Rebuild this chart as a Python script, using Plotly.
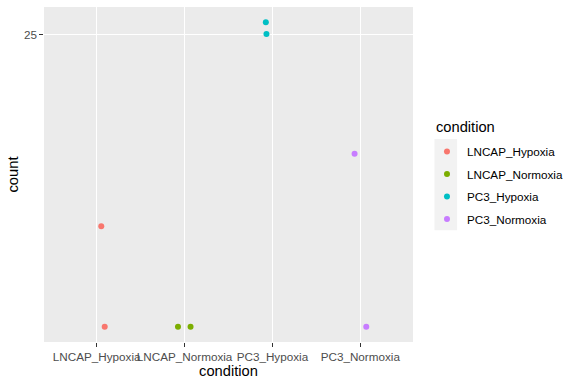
import numpy as np
import plotly.graph_objects as go

categories = ["LNCAP_Hypoxia", "LNCAP_Normoxia", "PC3_Hypoxia", "PC3_Normoxia"]
colors = ["#F8766D", "#7CAE00", "#00BFC4", "#C77CFF"]
# normalized counts (+0.5 pseudocount), two samples per condition
counts = {
    "LNCAP_Hypoxia": [1.92, 0.5],
    "LNCAP_Normoxia": [0.5, 0.5],
    "PC3_Hypoxia": [29.6, 25.3],
    "PC3_Normoxia": [5.08, 0.5],
}
# horizontal jitter (category units)
jitter = {
    "LNCAP_Hypoxia": [0.052, 0.091],
    "LNCAP_Normoxia": [-0.075, 0.068],
    "PC3_Hypoxia": [-0.075, -0.068],
    "PC3_Normoxia": [-0.065, 0.068],
}
y_breaks = [25, 100, 400]

fig = go.Figure()
for i, (cat, col) in enumerate(zip(categories, colors)):
    xs = [i + 1 + j for j in jitter[cat]]
    fig.add_trace(go.Scatter(
        x=xs, y=counts[cat], mode="markers", name=cat, legendgroup=cat,
        marker=dict(color=col, size=6, line=dict(width=0)),
    ))

allv = np.log10([v for c in categories for v in counts[c]])
lo, hi = allv.min(), allv.max()
span = hi - lo
yr = [lo - 0.05 * span, hi + 0.05 * span]

W, H = 576, 384
L, R, T, B = 44, 162.5, 7, 42.3
pw, ph = W - L - R, H - T - B

def px_x(px):
    return (px - L) / pw

def px_y(py):
    return (H - B - py) / ph

TICK = 11.7
TITLE = 14.7

fig.add_shape(type="rect", xref="paper", yref="paper",
              x0=px_x(435), x1=px_x(457.7), y0=px_y(230), y1=px_y(139),
              fillcolor="#F2F2F2", line=dict(width=0), layer="below")

fig.add_annotation(text="condition", xref="paper", yref="paper",
                   x=px_x(435), y=px_y(126.5), xanchor="left", yanchor="middle",
                   showarrow=False, font=dict(size=TITLE, color="black"))

fig.update_layout(
    width=W, height=H,
    margin=dict(l=L, r=R, t=T, b=B, autoexpand=False),
    paper_bgcolor="white", plot_bgcolor="#EBEBEB",
    font=dict(family="Liberation Sans, Arial, sans-serif", size=11, color="black"),
    showlegend=True,
    legend=dict(
        x=px_x(427.5), y=px_y(137), xanchor="left", yanchor="top",
        bgcolor="rgba(0,0,0,0)", traceorder="grouped", tracegroupgap=3.5,
        font=dict(size=TICK, color="black"), itemwidth=30,
    ),
    xaxis=dict(
        range=[0.4, 4.6], tickvals=[1, 2, 3, 4], ticktext=categories,
        tickangle=0,
        showgrid=True, gridcolor="white", gridwidth=1.1, zeroline=False,
        ticks="outside", ticklen=3.7, tickcolor="#333333", tickwidth=1,
        tickfont=dict(size=TICK, color="#4D4D4D"),
        title=dict(text="condition", font=dict(size=TITLE, color="black"), standoff=1.5),
        showline=False,
    ),
    yaxis=dict(
        type="log", range=yr, tickvals=y_breaks, ticktext=[str(b) for b in y_breaks],
        showgrid=True, gridcolor="white", gridwidth=1.1, zeroline=False,
        ticks="outside", ticklen=3.7, tickcolor="#333333", tickwidth=1,
        tickfont=dict(size=TICK, color="#4D4D4D"),
        title=dict(text="count", font=dict(size=TITLE, color="black"), standoff=1),
        showline=False,
    ),
)

fig.write_html("out.html", config={"displayModeBar": False},
               post_script="document.body.style.margin='0';")
